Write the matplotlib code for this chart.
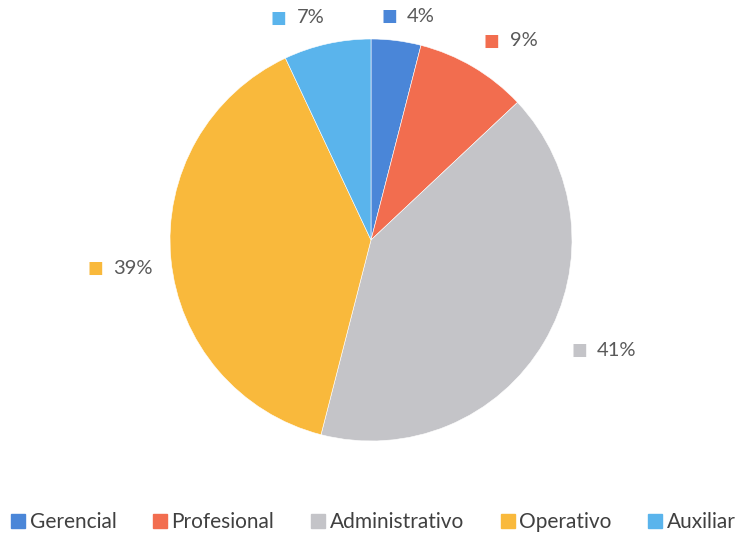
import matplotlib
matplotlib.use("Agg")
import matplotlib.pyplot as plt
from matplotlib.lines import Line2D
import numpy as np

categories = ["Gerencial", "Profesional", "Administrativo", "Operativo", "Auxiliar"]
values = [4, 9, 41, 39, 7]
colors = ["#4a86d8", "#f26d4f", "#c4c4c8", "#f9b93c", "#5ab4ec"]
# label placement radius/angle offsets (layout only)
label_pos = [(1.13, -3), (1.22, -5), (1.27, 5), (1.27, 1), (1.16, 5)]

plt.rcParams['font.family'] = ['Lato', 'DejaVu Sans']

fig = plt.figure(figsize=(7.4, 5.35), dpi=100)
fig.patch.set_facecolor("white")
W, H = 740, 535
cx, cy, r = 371, 240, 201
ax = fig.add_axes([(cx - r) / W, (H - cy - r) / H, 2 * r / W, 2 * r / H])
wedges, _ = ax.pie(values, colors=colors, startangle=90, counterclock=False,
                   radius=1, wedgeprops=dict(edgecolor="white", linewidth=0.4))
ax.set_xlim(-1, 1)
ax.set_ylim(-1, 1)
ax.set_aspect("equal")
ax.axis("off")

for w, v, c, (rr, da) in zip(wedges, values, colors, label_pos):
    ang = np.deg2rad((w.theta1 + w.theta2) / 2 + da)
    x, y = rr * np.cos(ang), rr * np.sin(ang)
    ax.text(x - 0.07, y, "■", color=c, fontsize=12, ha="right", va="center",
            family=["DejaVu Sans"], clip_on=False)
    ax.text(x - 0.02, y, f"{v}%", color="#595959", fontsize=14.5, ha="left",
            va="center", clip_on=False)

handles = [Line2D([0], [0], marker="s", color="w", markerfacecolor=c,
                  markeredgecolor=c, markersize=10, linestyle="None") for c in colors]
fig.legend(handles, categories, loc="center", bbox_to_anchor=(0.505, (H - 522) / H),
           ncol=5, frameon=False, fontsize=15, handlelength=0.6, handletextpad=0.25,
           columnspacing=1.8, labelcolor="#404040")

fig.savefig("out.png", dpi=100, facecolor="white")
